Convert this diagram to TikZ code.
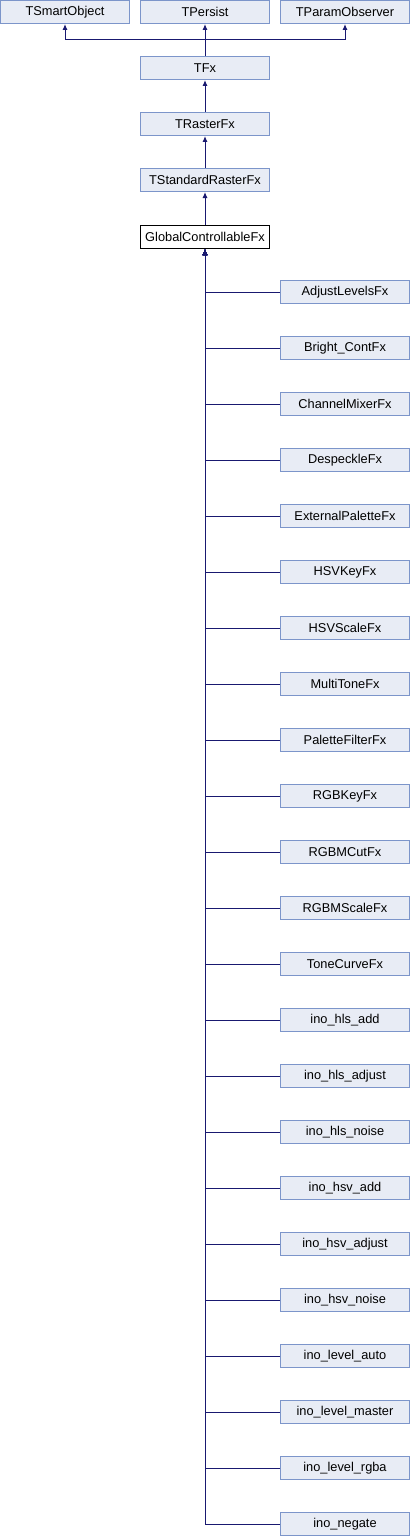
\documentclass[tikz,border=0pt]{standalone}
\usepackage{fontspec}
\setmainfont{Liberation Sans}
\usetikzlibrary{arrows.meta}
\definecolor{boxfill}{RGB}{232,236,245}
\definecolor{boxline}{RGB}{124,149,202}
\definecolor{edgeblue}{RGB}{25,25,112}

\begin{document}
\begin{tikzpicture}[x=1pt,y=-1pt,font=\fontsize{12.8}{14}\selectfont,
cls/.style={draw=boxline,line width=1pt,fill=boxfill,minimum width=129pt,minimum height=23pt,inner sep=0pt},
cur/.style={cls,draw=black,fill=white},
edge/.style={-{Latex[length=6pt,width=5pt]},line width=1pt,draw=edgeblue}]
\useasboundingbox (0,0) rectangle (410,1536);

% base classes
\node[cls] (smart)at(65,12){TSmartObject};
\node[cls] (persist)at(205,12){TPersist};
\node[cls] (observer)at(345,12){TParamObserver};
\node[cls] (tfx)at(205,68){TFx};
\node[cls] (raster)at(205,124){TRasterFx};
\node[cls] (stdraster)at(205,180){TStandardRasterFx};
\node[cur] (gcf)at(205,237){GlobalControllableFx};
\coordinate (split)at(205,40);
\draw[edge](tfx.north)--(persist.south);
\draw[edge](tfx.north)--(split)-|(smart.south);
\draw[edge](tfx.north)--(split)-|(observer.south);
\draw[edge](raster.north)--(tfx.south);
\draw[edge](stdraster.north)--(raster.south);
\draw[edge](gcf.north)--(stdraster.south);

% derived classes
\node[cls] (c1)at(345,292){AdjustLevelsFx};
\node[cls] (c2)at(345,348){Bright\_ContFx};
\node[cls] (c3)at(345,404){ChannelMixerFx};
\node[cls] (c4)at(345,460){DespeckleFx};
\node[cls] (c5)at(345,516){ExternalPaletteFx};
\node[cls] (c6)at(345,572){HSVKeyFx};
\node[cls] (c7)at(345,628){HSVScaleFx};
\node[cls] (c8)at(345,684){MultiToneFx};
\node[cls] (c9)at(345,740){PaletteFilterFx};
\node[cls] (c10)at(345,796){RGBKeyFx};
\node[cls] (c11)at(345,852){RGBMCutFx};
\node[cls] (c12)at(345,908){RGBMScaleFx};
\node[cls] (c13)at(345,964){ToneCurveFx};
\node[cls] (c14)at(345,1020){ino\_hls\_add};
\node[cls] (c15)at(345,1076){ino\_hls\_adjust};
\node[cls] (c16)at(345,1132){ino\_hls\_noise};
\node[cls] (c17)at(345,1188){ino\_hsv\_add};
\node[cls] (c18)at(345,1244){ino\_hsv\_adjust};
\node[cls] (c19)at(345,1300){ino\_hsv\_noise};
\node[cls] (c20)at(345,1356){ino\_level\_auto};
\node[cls] (c21)at(345,1412){ino\_level\_master};
\node[cls] (c22)at(345,1468){ino\_level\_rgba};
\node[cls] (c23)at(345,1524){ino\_negate};
\draw[edge](c1.west)-|(gcf.south);
\draw[edge](c2.west)-|(gcf.south);
\draw[edge](c3.west)-|(gcf.south);
\draw[edge](c4.west)-|(gcf.south);
\draw[edge](c5.west)-|(gcf.south);
\draw[edge](c6.west)-|(gcf.south);
\draw[edge](c7.west)-|(gcf.south);
\draw[edge](c8.west)-|(gcf.south);
\draw[edge](c9.west)-|(gcf.south);
\draw[edge](c10.west)-|(gcf.south);
\draw[edge](c11.west)-|(gcf.south);
\draw[edge](c12.west)-|(gcf.south);
\draw[edge](c13.west)-|(gcf.south);
\draw[edge](c14.west)-|(gcf.south);
\draw[edge](c15.west)-|(gcf.south);
\draw[edge](c16.west)-|(gcf.south);
\draw[edge](c17.west)-|(gcf.south);
\draw[edge](c18.west)-|(gcf.south);
\draw[edge](c19.west)-|(gcf.south);
\draw[edge](c20.west)-|(gcf.south);
\draw[edge](c21.west)-|(gcf.south);
\draw[edge](c22.west)-|(gcf.south);
\draw[edge](c23.west)-|(gcf.south);
\end{tikzpicture}
\end{document}
